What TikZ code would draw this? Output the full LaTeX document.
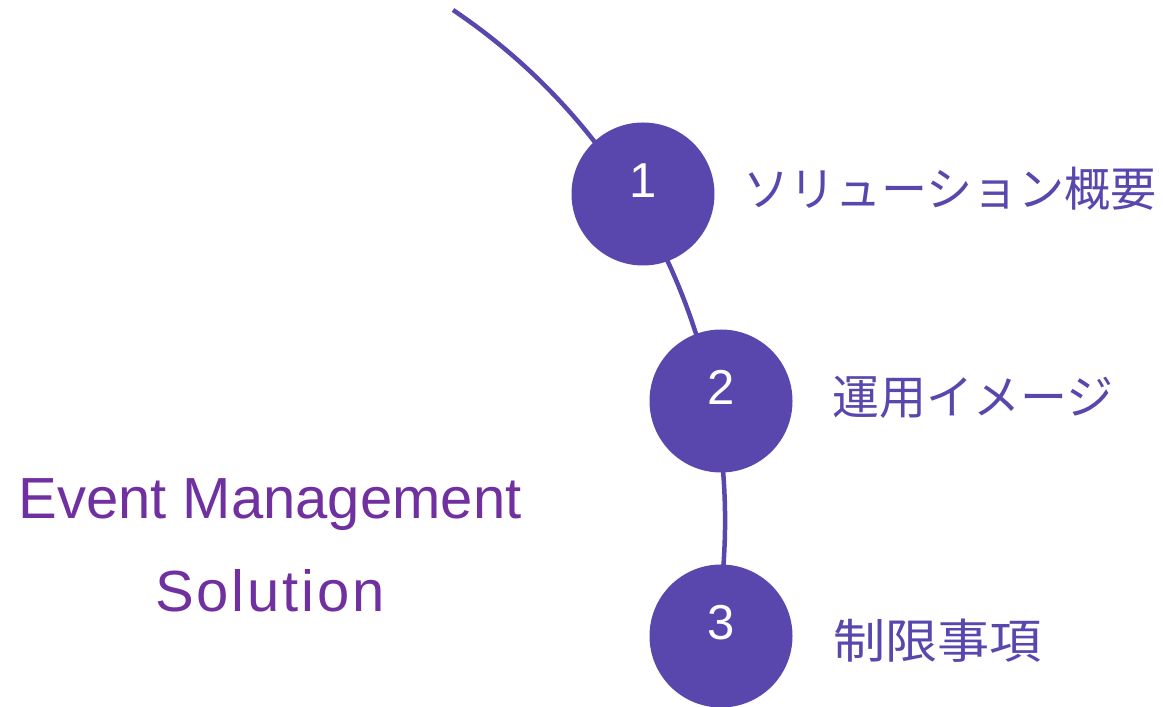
\documentclass[tikz,border=0pt]{standalone}
\usepackage{fontspec}
\setmainfont{Liberation Sans}
\newfontfamily\cjk{Noto Sans CJK JP}
\newfontfamily\cjknarrow[FakeStretch=0.98]{Noto Sans CJK JP}
\newfontfamily\cjkwide[FakeStretch=1.11]{Noto Sans CJK JP}
\definecolor{circ}{RGB}{89,71,173}
\definecolor{ttl}{RGB}{112,48,160}
\tikzset{
  conn/.style={draw=circ, line width=4.5pt},
  stepcirc/.style={circle, fill=circ, draw=none, minimum size=143pt, inner sep=0pt,
    text=white, font=\fontsize{49}{49}\selectfont, text height=35pt, text depth=28pt},
  jlabel/.style={anchor=base west, text=circ, inner sep=0pt, font=\fontsize{47}{47}\selectfont},
  title/.style={anchor=base, text=ttl, inner sep=0pt, font=\fontsize{58}{58}\selectfont}
}
\begin{document}
\begin{tikzpicture}[x=1pt,y=1pt]
\useasboundingbox (0,0) rectangle (1163,707);
\coordinate (top) at (453,697);
\draw[conn] (top) arc[start angle=56.09, end angle=-10.8, radius=615.35] coordinate (bot);
\node[stepcirc] (n1) at (643,513) {1};
\node[stepcirc] (n2) at (721,306) {2};
\node[stepcirc] (n3) at (721,71) {3};
\node[jlabel] (l1) at (743,500) {\cjknarrow ソリューション概要};
\node[jlabel] (l2) at (832,292) {\cjk 運用イメージ};
\node[jlabel] (l3) at (833,48) {\cjkwide 制限事項};
\node[title] (t1) at (270,188) {Event Management};
\node[title] (t2) at (270,95) {\addfontfeature{LetterSpace=5}Solution};
\end{tikzpicture}
\end{document}
